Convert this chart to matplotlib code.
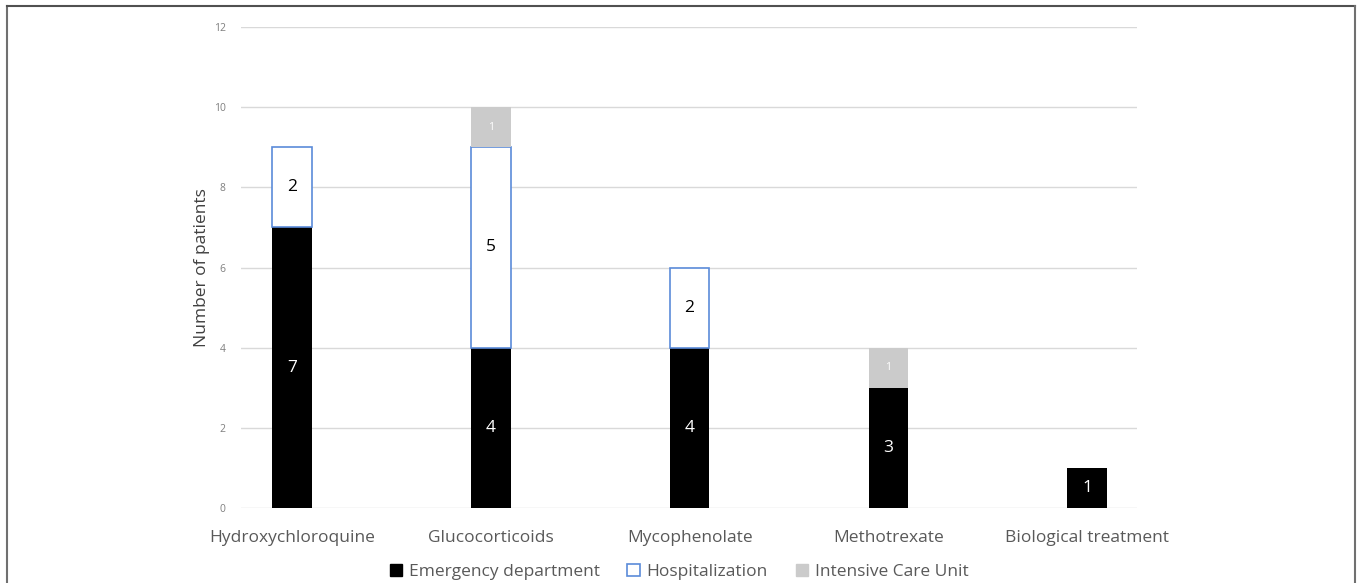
import numpy as np
import matplotlib
matplotlib.use("Agg")
import matplotlib.pyplot as plt
from matplotlib.lines import Line2D
from matplotlib.patches import Patch

# data
drugs = ["Hydroxychloroquine", "Glucocorticoids", "Mycophenolate", "Methotrexate", "Biological treatment"]
emergency = [7, 4, 4, 3, 1]
hospital = [2, 5, 2, 0, 0]
icu = [0, 1, 0, 1, 0]

plt.rcParams['font.family'] = ['Open Sans', 'DejaVu Sans']

fig = plt.figure(figsize=(13.57, 5.83), dpi=100)
ax = fig.add_axes([241 / 1357, 1 - 508 / 583, (1137 - 241) / 1357, (508 - 27) / 583])

x = np.arange(len(drugs))
w = 0.2
emergency = np.array(emergency)
hospital = np.array(hospital)
icu = np.array(icu)

ax.bar(x, emergency, w, color='black', zorder=3)
# only draw hospitalization segments that exist (avoid blue edge on zero bars)
has_h = hospital > 0
ax.bar(x[has_h], hospital[has_h], w, bottom=emergency[has_h], facecolor='white',
       edgecolor='#5B8BD9', linewidth=1.2, zorder=3)
has_i = icu > 0
ax.bar(x[has_i], icu[has_i], w, bottom=(emergency + hospital)[has_i], color='#cbcbcb', zorder=3)

for i in range(len(drugs)):
    if emergency[i]:
        ax.text(x[i], emergency[i] / 2, str(emergency[i]), ha='center', va='center',
                color='white', fontsize=12.5)
    if hospital[i]:
        ax.text(x[i], emergency[i] + hospital[i] / 2, str(hospital[i]), ha='center', va='center',
                color='black', fontsize=12.5)
    if icu[i]:
        ax.text(x[i], emergency[i] + hospital[i] + icu[i] / 2, str(icu[i]), ha='center', va='center',
                color='white', fontsize=7.5)

ax.set_xlim(-0.256, 4.25)
ax.set_ylim(0, 12)
ax.set_yticks(range(0, 13, 2))
ax.grid(axis='y', color='#d9d9d9', linewidth=1, zorder=0)
for s in ax.spines.values():
    s.set_visible(False)
ax.tick_params(axis='y', length=0, labelsize=7.5, labelcolor='#7f7f7f', pad=11)
ax.tick_params(axis='x', length=0, labelsize=12.5, labelcolor='#595959', pad=16)
ax.set_xticks(x)
ax.set_xticklabels(drugs)
ax.set_ylabel("Number of patients", fontsize=12.5, color='#404040', labelpad=3)

handles = [Patch(facecolor='black', edgecolor='black'),
           Patch(facecolor='white', edgecolor='#5B8BD9', linewidth=1.2),
           Patch(facecolor='#cbcbcb', edgecolor='#cbcbcb')]
fig.legend(handles, ["Emergency department", "Hospitalization", "Intensive Care Unit"],
           loc='center', bbox_to_anchor=(679 / 1357, 1 - 572 / 583), ncol=3, frameon=False,
           fontsize=12.5, labelcolor='#595959', handlelength=0.7, handleheight=0.7,
           handletextpad=0.4, columnspacing=1.6)

# outer frame
fig.add_artist(Line2D([7 / 1357, 7 / 1357], [0, 1 - 6 / 583], transform=fig.transFigure,
                      color='#707070', linewidth=1.5))
fig.add_artist(Line2D([7 / 1357, 1355 / 1357], [1 - 6 / 583, 1 - 6 / 583], transform=fig.transFigure,
                      color='#505050', linewidth=1.5))
fig.add_artist(Line2D([1355 / 1357, 1355 / 1357], [0, 1 - 6 / 583], transform=fig.transFigure,
                      color='#707070', linewidth=1.5))

fig.savefig("out.png", dpi=100)
